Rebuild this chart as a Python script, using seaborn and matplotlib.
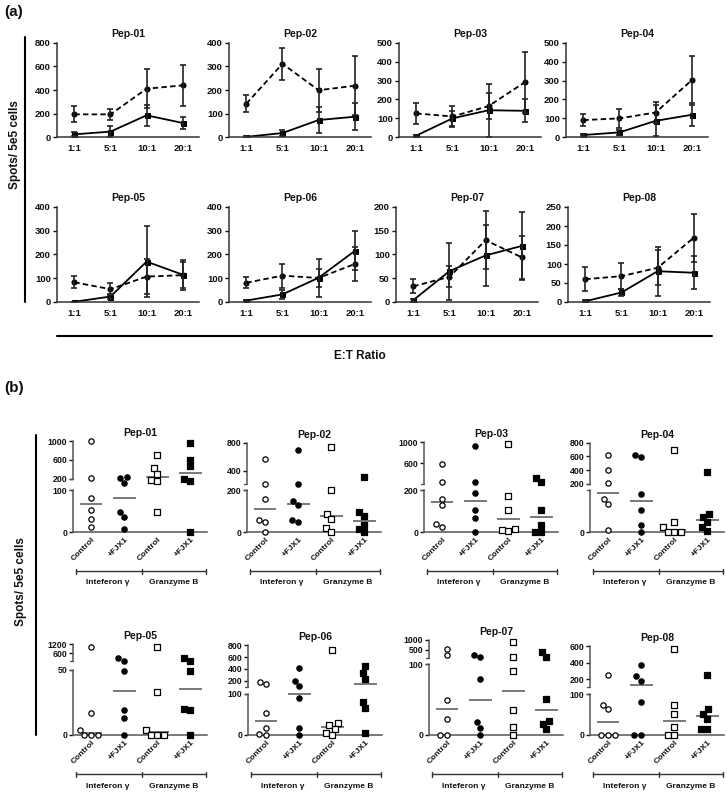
import numpy as np
import pandas as pd
import matplotlib
matplotlib.use("Agg")
import matplotlib.pyplot as plt
import matplotlib.transforms as mtransforms
from matplotlib.lines import Line2D
import seaborn as sns

# labels shared by both panels
peptides = ["Pep-01", "Pep-02", "Pep-03", "Pep-04", "Pep-05", "Pep-06", "Pep-07", "Pep-08"]
ratios = ["1:1", "5:1", "10:1", "20:1"]

# (a) spots vs E:T ratio, mean and error for the solid (square) and dashed (circle) curves
solid_mean = [
    [25, 48, 186, 121],
    [2, 18, 73, 87],
    [9, 100, 143, 140],
    [12, 26, 87, 119],
    [1, 23, 170, 115],
    [6, 32, 102, 215],
    [4, 65, 98, 118],
    [2, 25, 81, 77],
]
solid_err = [
    [16, 45, 90, 47],
    [2, 13, 55, 57],
    [5, 40, 140, 60],
    [5, 14, 82, 61],
    [1, 11, 150, 55],
    [3, 20, 38, 82],
    [3, 60, 65, 71],
    [2, 10, 65, 43],
]
dashed_mean = [
    [194, 194, 411, 439],
    [142, 311, 199, 218],
    [126, 110, 165, 291],
    [91, 100, 131, 302],
    [83, 54, 107, 113],
    [81, 111, 101, 160],
    [33, 53, 130, 94],
    [60, 68, 90, 169],
]
dashed_err = [
    [67, 48, 166, 175],
    [37, 67, 90, 125],
    [55, 58, 67, 160],
    [32, 52, 56, 130],
    [25, 25, 72, 62],
    [24, 50, 82, 70],
    [15, 22, 61, 46],
    [31, 34, 46, 63],
]
a_ymax = [800, 400, 500, 500, 400, 400, 200, 250]
a_ystep = [200, 100, 100, 100, 100, 100, 50, 50]

# (b) individual spot counts per donor
cond_labels = ["Control", "+FJX1", "Control", "+FJX1"]
assays = ["Inteferon γ", "Granzyme B"]
ifn_ctrl = [
    [1000, 220, 82, 52, 30, 12],
    [570, 210, 160, 56, 48, 0],
    [590, 240, 160, 128, 40, 24],
    [615, 400, 215, 80, 68, 4],
    [1000, 17, 4, 0, 0, 0],
    [150, 174, 53, 16, 0, 2],
    [550, 218, 50, 23, 0, 0],
    [254, 72, 63, 0, 0, 0],
]
ifn_fjx1 = [
    [240, 160, 215, 48, 36, 6],
    [700, 212, 147, 128, 48, 56],
    [920, 240, 187, 107, 69, 0],
    [625, 590, 92, 52, 16, 0],
    [300, 130, 49, 19, 13, 0],
    [410, 190, 107, 89, 16, 0],
    [250, 119, 80, 18, 10, 0],
    [368, 234, 181, 80, 0, 0],
]
grz_ctrl = [
    [714, 430, 307, 186, 177, 48],
    [740, 200, 85, 61, 19, 0],
    [970, 171, 107, 13, 5, 8],
    [700, 24, 12, 0, 0, 0],
    [1000, 33, 4, 0, 0, 0],
    [715, 29, 23, 15, 6, 0],
    [867, 134, 90, 35, 11, 0],
    [572, 72, 51, 19, 0, 0],
]
grz_fjx1 = [
    [970, 610, 470, 195, 177, 0],
    [305, 96, 77, 32, 0, 16],
    [240, 320, 104, 32, 0, 0],
    [375, 44, 36, 24, 12, 2],
    [280, 130, 49, 20, 19, 0],
    [445, 332, 231, 80, 65, 6],
    [384, 119, 51, 20, 16, 8],
    [254, 63, 52, 40, 15, 15],
]
# centre lines drawn through each group
ifn_ctrl_mid = [66, 112, 144, 94, 1.5, 35, 37, 31]
ifn_fjx1_mid = [82, 136, 147, 74, 34, 98, 50, 128]
grz_ctrl_mid = [236, 75, 61, 6, 2, 19, 63, 33]
grz_fjx1_mid = [330, 53, 72, 30, 35, 152, 36, 47]

b_ticks = [
    [0, 100, 200, 600, 1000],
    [0, 200, 400, 800],
    [0, 200, 600, 1000],
    [0, 200, 400, 600, 800],
    [0, 50, 600, 1200],
    [0, 100, 200, 400, 600, 800],
    [0, 100, 500, 1000],
    [0, 100, 200, 400, 600],
]
# broken y axes: (value breakpoints, share of axis height)
b_breaks = [
    ([0, 100, 200, 1000], [0, 0.46, 0.588, 1]),
    ([0, 200, 205, 800], [0, 0.466, 0.535, 1]),
    ([0, 200, 205, 1000], [0, 0.463, 0.533, 1]),
    ([0, 100, 200, 800], [0, 0.466, 0.541, 1]),
    ([0, 50, 100, 1200], [0, 0.718, 0.813, 1]),
    ([0, 100, 101, 800], [0, 0.461, 0.539, 1]),
    ([0, 100, 101, 1000], [0, 0.741, 0.811, 1]),
    ([0, 100, 101, 600], [0, 0.462, 0.539, 1]),
]

sns.set_style("ticks")
plt.rcParams["font.family"] = ["Liberation Sans", "DejaVu Sans"]
plt.rcParams["font.weight"] = "bold"
plt.rcParams["axes.titleweight"] = "bold"

W, H = 727, 794
fig = plt.figure(figsize=(W / 100, H / 100), dpi=100)
INK = "#111111"


def px_axes(x0, x1, y_top, y_bot):
    return fig.add_axes([x0 / W, 1 - y_bot / H, (x1 - x0) / W, (y_bot - y_top) / H])


def fig_line(x0, y0, x1, y1, lw=1.5):
    fig.add_artist(Line2D([x0 / W, x1 / W], [1 - y0 / H, 1 - y1 / H],
                          transform=fig.transFigure, color="black", lw=lw))


def piecewise(src, dst):
    src = np.asarray(src, float)
    dst = np.asarray(dst, float)
    lo = (dst[1] - dst[0]) / (src[1] - src[0])
    hi = (dst[-1] - dst[-2]) / (src[-1] - src[-2])

    def f(v):
        v = np.asarray(v, float)
        out = np.interp(v, src, dst)
        out = np.where(v < src[0], dst[0] + (v - src[0]) * lo, out)
        out = np.where(v > src[-1], dst[-1] + (v - src[-1]) * hi, out)
        return out
    return f


# ---------------- panel (a) ----------------
a_left = [57, 229, 399, 566, 57, 229, 396, 568]
a_rows = [(42.7, 137.3), (207, 302)]
pos = np.arange(len(ratios))

for i, pep in enumerate(peptides):
    top, bot = a_rows[i // 4]
    ax = px_axes(a_left[i], a_left[i] + 142, top, bot)
    df = pd.DataFrame({
        "pos": np.concatenate([pos, pos]),
        "spots": solid_mean[i] + dashed_mean[i],
        "curve": ["solid"] * 4 + ["dashed"] * 4,
    })
    sns.lineplot(data=df, x="pos", y="spots", style="curve",
                 markers={"solid": "s", "dashed": "o"},
                 dashes={"solid": "", "dashed": (3, 1.8)},
                 color="black", linewidth=1.3, markersize=3.6,
                 markeredgecolor="black", errorbar=None, legend=False, ax=ax)
    for m, e in ((solid_mean[i], solid_err[i]), (dashed_mean[i], dashed_err[i])):
        ax.errorbar(pos, m, yerr=e, fmt="none", ecolor="#222222",
                    elinewidth=1.2, capsize=2.2, capthick=1.2)
    ax.set_xlim(-0.48, 3.45)
    ax.set_ylim(0, a_ymax[i])
    ax.set_yticks(np.arange(0, a_ymax[i] + 1, a_ystep[i]))
    ax.set_xticks(pos, ratios)
    ax.set_xlabel("")
    ax.set_ylabel("")
    ax.set_title(pep, fontsize=7.5, pad=4, color=INK)
    ax.tick_params(axis="y", length=3, width=1, labelsize=6.8, pad=1.5, colors=INK)
    ax.tick_params(axis="x", length=0, labelsize=6.8, pad=5, colors=INK)
    sns.despine(ax=ax)
    for s in ("left", "bottom"):
        ax.spines[s].set_color("#333333")
        ax.spines[s].set_linewidth(1.1)

fig.text(4 / W, 1 - 12 / H, "(a)", fontsize=11, ha="left", va="center", color=INK)
fig.text(15 / W, 1 - 145 / H, "Spots/ 5e5 cells", rotation=90, fontsize=8.5,
         ha="center", va="center", color=INK)
fig_line(25, 37, 25, 302)
fig_line(57, 336, 712, 336)
fig.text(360 / W, 1 - 356 / H, "E:T Ratio", fontsize=8.5, ha="center", va="center", color=INK)

# ---------------- panel (b) ----------------
b_left = [73, 247, 424, 590, 73, 248, 429, 590]
b_bottom = [532] * 4 + [735] * 4
b_height = [90.7, 89.3, 90, 89.3, 91, 89.7, 95.3, 88.7]
b_width = 134
groups = [ifn_ctrl, ifn_fjx1, grz_ctrl, grz_fjx1]
mids = [ifn_ctrl_mid, ifn_fjx1_mid, grz_ctrl_mid, grz_fjx1_mid]
looks = [("o", "white"), ("o", "black"), ("s", "white"), ("s", "black")]
AX = "#555555"

for i, pep in enumerate(peptides):
    h = b_height[i]
    ax = px_axes(b_left[i], b_left[i] + b_width, b_bottom[i] - h, b_bottom[i])
    vals, fracs = b_breaks[i]
    ax.set_yscale("function", functions=(piecewise(vals, fracs), piecewise(fracs, vals)))
    for k, (grp, (mk, fc)) in enumerate(zip(groups, looks)):
        df = pd.DataFrame({"pos": k, "spots": grp[i]})
        sns.swarmplot(data=df, x="pos", y="spots", native_scale=True, orient="x",
                      marker=mk, color=fc, edgecolor="black", linewidth=0.9,
                      size=3.8, clip_on=False, ax=ax)
        ax.hlines(mids[k][i], k - 0.34, k + 0.34, color="#555555", lw=1.1)
    ax.set_xlim(-0.55, 3.5)
    ax.set_ylim(0, vals[-1])
    ax.set_yticks(b_ticks[i], [str(t) for t in b_ticks[i]])
    ax.set_xticks(range(4), cond_labels, rotation=45, ha="right",
                  rotation_mode="anchor")
    ax.set_xlabel("")
    ax.set_ylabel("")
    ax.set_title(pep, fontsize=7.5, pad=3.5, color=INK)
    ax.tick_params(axis="y", length=3, width=1, labelsize=6.3, pad=1, colors=INK)
    ax.tick_params(axis="x", length=0, labelsize=6, pad=3, colors=INK)
    sns.despine(ax=ax)
    ax.spines["left"].set_visible(False)
    ax.spines["bottom"].set_color(AX)
    ax.spines["bottom"].set_linewidth(1.1)
    ytr = ax.get_yaxis_transform()
    tl = 3 / b_width
    for y0, y1 in ((vals[0], vals[1]), (vals[2], vals[3])):
        ax.add_artist(Line2D([0, 0], [y0, y1], transform=ytr, color=AX, lw=1.1, clip_on=False))
    for yb in (vals[1], vals[2]):
        ax.add_artist(Line2D([-tl, 0], [yb, yb], transform=ytr, color=AX, lw=1, clip_on=False))
    # assay brackets under the category labels
    btr = mtransforms.blended_transform_factory(ax.transData, ax.transAxes)
    yb = -39 / h
    th = 2.5 / h
    ax.add_artist(Line2D([-0.46, 3.47], [yb, yb], transform=btr, color="#333333", lw=1, clip_on=False))
    for xb in (-0.46, 1.53, 3.47):
        ax.add_artist(Line2D([xb, xb], [yb - th, yb + th], transform=btr, color="#333333", lw=1, clip_on=False))
    for xc, name in zip((0.5, 2.5), assays):
        ax.text(xc, -51 / h, name, transform=btr, ha="center", va="center",
                fontsize=6, color=INK)

fig.text(4 / W, 1 - 388 / H, "(b)", fontsize=11, ha="left", va="center", color=INK)
fig.text(21 / W, 1 - 582 / H, "Spots/ 5e5 cells", rotation=90, fontsize=8.5,
         ha="center", va="center", color=INK)
fig_line(36, 435, 36, 735)

fig.savefig("out.png", dpi=100)
